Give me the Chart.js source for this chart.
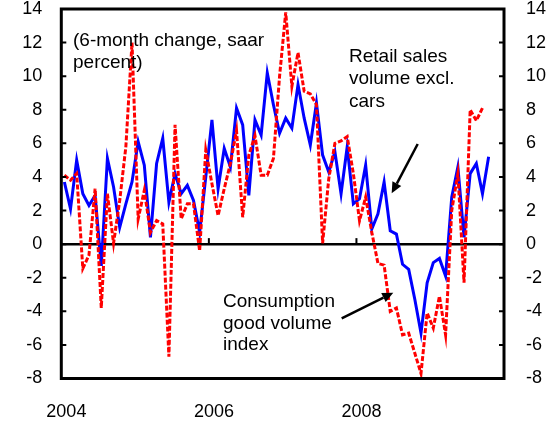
<!DOCTYPE html>
<html>
<head>
<meta charset="utf-8">
<script src="https://cdn.jsdelivr.net/npm/chart.js@4"></script>
<style>
  html, body { margin: 0; padding: 0; background: #fff; }
</style>
</head>
<body>
<canvas id="myChart" width="555" height="424"></canvas>
<script>
// Monthly categories, Jan 2004 .. Dec 2009
const years = [2004, 2005, 2006, 2007, 2008, 2009];
const months = [];
years.forEach(y => {
  for (let m = 1; m <= 12; m++) months.push(y + "-" + String(m).padStart(2, "0"));
});
const tickYears = ["2004", "2006", "2008"];
const yTicks = [-8, -6, -4, -2, 0, 2, 4, 6, 8, 10, 12, 14];

// Retail sales volume excl. cars (6-month change, saar %)
const retailSales = [
  3.7, 2.1, 5.0, 3.0, 2.3, 2.9, -1.3, 5.1, 3.4, 1.0, 2.4, 3.7,
  6.1, 4.7, 0.4, 4.8, 6.3, 2.5, 4.2, 3.0, 3.5, 2.6, 0.7, 4.0,
  7.4, 3.3, 5.7, 4.6, 8.1, 7.1, 2.9, 7.4, 6.5, 10.2, 8.3, 6.6,
  7.5, 6.9, 9.5, 7.5, 5.9, 8.4, 5.3, 4.3, 5.5, 3.0, 5.8, 2.4,
  2.7, 4.7, 0.9, 1.8, 3.7, 0.8, 0.6, -1.2, -1.5, -3.3, -5.3, -2.3,
  -1.1, -0.85, -1.9, 2.8, 4.6, 0.4, 4.2, 4.8, 3.0, 5.2
];

// Consumption good volume index (6-month change, saar %)
const consumptionGoods = [
  4.1, 3.8, 4.2, -1.45, -0.65, 3.3, -3.8, 3.0, 0.05, 2.6, 5.8, 12.0,
  1.5, 3.2, 0.7, 1.4, 1.2, -6.7, 7.1, 1.5, 2.4, 2.4, -0.4, 5.6,
  3.6, 1.7, 3.3, 4.8, 6.75, 1.6, 5.3, 6.45, 4.1, 4.1, 5.1, 10.0,
  13.8, 9.4, 11.4, 9.1, 8.95, 8.3, 0.05, 3.9, 6.0, 6.15, 6.4, 4.2,
  1.4, 2.8, 0.7, -1.15, -1.25, -4.0, -3.8, -5.4, -5.3, -6.5, -7.7, -4.1,
  -5.0, -3.1, -5.4, 2.0, 4.2, -2.3, 8.0, 7.35, 8.1
];

const FONT = "'Liberation Sans', Arial, sans-serif";

function drawArrow(ctx, x1, y1, x2, y2) {
  const ang = Math.atan2(y2 - y1, x2 - x1);
  const len = 11, hw = 5;
  const bx = x2 - len * Math.cos(ang), by = y2 - len * Math.sin(ang);
  ctx.beginPath();
  ctx.moveTo(x1, y1);
  ctx.lineTo(bx, by);
  ctx.stroke();
  ctx.beginPath();
  ctx.moveTo(x2, y2);
  ctx.lineTo(bx + hw * Math.sin(ang), by - hw * Math.cos(ang));
  ctx.lineTo(bx - hw * Math.sin(ang), by + hw * Math.cos(ang));
  ctx.closePath();
  ctx.fill();
}

// zero line, year tick marks, frame, inside ticks and the text notes
const framePlugin = {
  id: "frame",
  beforeDatasetsDraw(chart) {
    const { ctx, chartArea: a, scales } = chart;
    const x = scales.x, y = scales.y;
    const y0 = y.getPixelForValue(0);
    ctx.save();
    ctx.strokeStyle = "#000";
    ctx.lineWidth = 2.5;
    ctx.beginPath();
    ctx.moveTo(a.left, y0);
    ctx.lineTo(a.right, y0);
    ctx.stroke();
    const half = (x.getPixelForValue(1) - x.getPixelForValue(0)) / 2;
    ctx.lineWidth = 2;
    tickYears.slice(1).forEach(yr => {
      const px = x.getPixelForValue(months.indexOf(yr + "-01")) - half;
      ctx.beginPath();
      ctx.moveTo(px, y0);
      ctx.lineTo(px, y0 - 6);
      ctx.stroke();
    });
    ctx.restore();
  },
  afterDatasetsDraw(chart) {
    const { ctx, chartArea: a, scales } = chart;
    ctx.save();
    ctx.strokeStyle = "#000";
    ctx.lineWidth = 3;
    ctx.strokeRect(a.left, a.top, a.right - a.left, a.bottom - a.top);
    ctx.lineWidth = 2;
    yTicks.forEach(v => {
      const py = scales.y.getPixelForValue(v);
      ctx.beginPath();
      ctx.moveTo(a.left, py);
      ctx.lineTo(a.left + 5, py);
      ctx.moveTo(a.right, py);
      ctx.lineTo(a.right - 5, py);
      ctx.stroke();
    });
    ctx.restore();
  },
  afterDraw(chart) {
    const ctx = chart.ctx;
    ctx.save();
    ctx.fillStyle = "#000";
    ctx.strokeStyle = "#000";
    ctx.font = "19px " + FONT;
    ctx.textBaseline = "alphabetic";
    ctx.textAlign = "left";
    ctx.fillText("(6-month change, saar", 73, 45.5);
    ctx.fillText("percent)", 73, 68);
    ctx.fillText("Retail sales", 349, 61.5);
    ctx.fillText("volume excl.", 349, 84);
    ctx.fillText("cars", 349, 106.5);
    ctx.fillText("Consumption", 223, 306.5);
    ctx.fillText("good volume", 223, 328.5);
    ctx.fillText("index", 223, 350);
    ctx.lineWidth = 2.5;
    drawArrow(ctx, 417.7, 144, 391.7, 193.3);
    drawArrow(ctx, 341.7, 318.3, 393.3, 292.7);
    ctx.restore();
  }
};

const ctx = document.getElementById("myChart").getContext("2d");

const myChart = new Chart(ctx, {
  type: "line",
  data: {
    labels: months,
    datasets: [
      {
        label: "Consumption good volume index",
        data: consumptionGoods,
        borderColor: "#ff0000",
        borderWidth: 3,
        borderDash: [5, 2],
        pointRadius: 0,
        tension: 0,
        yAxisID: "y",
      },
      {
        label: "Retail sales volume excl. cars",
        data: retailSales,
        borderColor: "#0000ff",
        borderWidth: 3,
        pointRadius: 0,
        tension: 0,
        yAxisID: "y",
      },
    ],
  },
  options: {
    responsive: false,
    animation: false,
    devicePixelRatio: 1,
    layout: { padding: { top: 9, left: 0, right: 0, bottom: 0 } },
    plugins: {
      legend: { display: false },
      tooltip: { enabled: false },
    },
    scales: {
      x: {
        type: "category",
        offset: true,
        grid: { display: false, drawTicks: true, tickLength: 23 },
        border: { display: false },
        ticks: {
          autoSkip: false,
          maxRotation: 0,
          padding: 0,
          labelOffset: 2,
          color: "#000",
          font: { family: FONT, size: 18 },
          callback: function (val, idx) {
            const m = months[idx];
            const yr = m.slice(0, 4);
            return m.endsWith("-01") && tickYears.includes(yr) ? yr : "";
          },
        },
        afterFit: s => { s.height = 45.5; },
      },
      y: {
        position: "left",
        min: -8,
        max: 14,
        grid: { display: false, drawTicks: true, tickLength: 19 },
        border: { display: false },
        ticks: {
          stepSize: 2,
          padding: 0,
          color: "#000",
          font: { family: FONT, size: 18, lineHeight: 1 },
        },
        afterFit: s => { s.width = 61.3; },
      },
      y2: {
        position: "right",
        min: -8,
        max: 14,
        grid: { display: false, drawTicks: true, tickLength: 22 },
        border: { display: false },
        ticks: {
          stepSize: 2,
          padding: 0,
          color: "#000",
          font: { family: FONT, size: 18, lineHeight: 1 },
        },
        afterFit: s => { s.width = 51; },
      },
    },
  },
  plugins: [framePlugin],
});
</script>
</body>
</html>
